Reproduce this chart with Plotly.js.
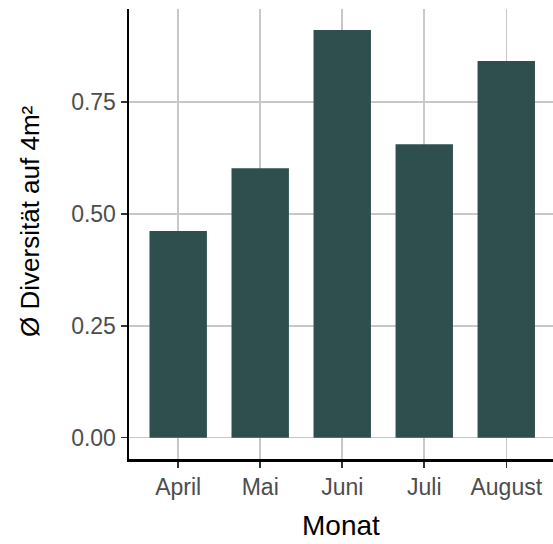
<!DOCTYPE html>
<html><head><meta charset="utf-8">
<script src="https://cdn.plot.ly/plotly-3.0.1.min.js"></script>
<style>html,body{margin:0;padding:0;background:#fff}</style>
</head><body><div id="chart" style="width:553px;height:544px"></div>
<script>
const months = ["April", "Mai", "Juni", "Juli", "August"];
const diversity = [0.462, 0.602, 0.911, 0.656, 0.842];
const yTicks = [0, 0.25, 0.5, 0.75];
const yTickLabels = ["0.00", "0.25", "0.50", "0.75"];
const xTitle = "Monat";
const yTitle = "Ø Diversität auf 4m²";

const trace = {
  type: "bar",
  x: [0, 1, 2, 3, 4],
  y: diversity,
  width: 0.7,
  marker: {color: "#2F4F4F", line: {width: 0}},
  hoverinfo: "none"
};

const layout = {
  width: 553, height: 544,
  margin: {l: 129, r: 0, t: 9, b: 85},
  paper_bgcolor: "#fff", plot_bgcolor: "#fff",
  showlegend: false,
  font: {family: "Liberation Sans, Arial, sans-serif"},
  xaxis: {
    range: [-0.6, 4.57],
    tickvals: [0, 1, 2, 3, 4],
    ticktext: months,
    showgrid: true, gridcolor: "#C8C8C8", gridwidth: 1.5,
    zeroline: false,
    showline: true, linecolor: "#000", linewidth: 2.5,
    ticks: "outside", ticklen: 6, tickwidth: 1.5, tickcolor: "#333",
    tickfont: {size: 23, color: "#4D4D4D"}
  },
  yaxis: {
    range: [-0.0475, 0.958],
    tickvals: yTicks,
    ticktext: yTickLabels,
    showgrid: true, gridcolor: "#C8C8C8", gridwidth: 1.5,
    zeroline: false,
    showline: true, linecolor: "#000", linewidth: 2.5,
    ticks: "outside", ticklen: 6, tickwidth: 1.5, tickcolor: "#333",
    tickfont: {size: 23, color: "#4D4D4D"}
  },
  annotations: [
    {text: xTitle, xref: "paper", yref: "paper", x: 0.5, y: 0, xanchor: "center", yanchor: "bottom",
     yshift: -84, showarrow: false, font: {size: 28, color: "#000"}},
    {text: yTitle, xref: "paper", yref: "paper", x: 0, y: 0.529, xanchor: "center", yanchor: "middle",
     xshift: -99, textangle: -90, showarrow: false, font: {size: 26, color: "#000"}}
  ]
};

Plotly.newPlot("chart", [trace], layout, {staticPlot: true, displayModeBar: false});
</script></body></html>
